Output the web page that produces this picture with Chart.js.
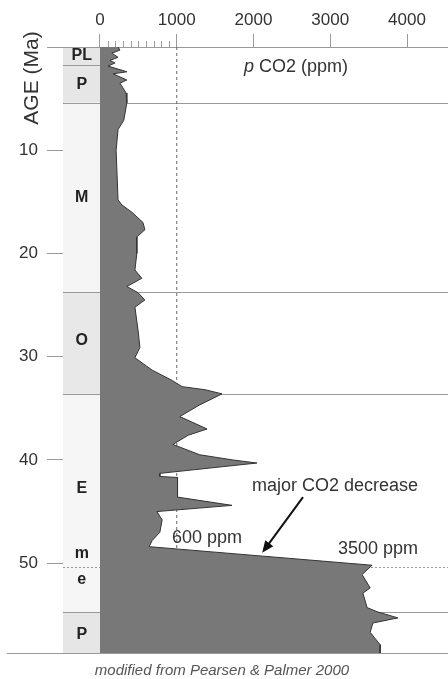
<!DOCTYPE html>
<html>
<head>
<meta charset="utf-8">
<script src="https://cdn.jsdelivr.net/npm/chart.js@4.4.0/dist/chart.umd.min.js"></script>
<style>
  html, body { margin: 0; padding: 0; background: #fff; }
</style>
</head>
<body>
<canvas id="myChart" width="448" height="679"></canvas>
<script>
const ages = [0, 0.3, 0.6, 1.0, 1.3, 1.55, 1.85, 2.4, 2.6, 3.2, 3.5, 4.45, 5.4, 7.1, 8.0, 10.0,
  14.8, 15.3, 16.0, 17.0, 17.7, 18.4, 20.0, 21.6, 22.4, 23.2, 23.8, 24.5, 25.2, 27.4, 29.1, 30.1,
  31.3, 32.3, 32.9, 33.2, 33.6, 34.7, 35.8, 37.0, 37.6, 38.5, 39.5, 40.0, 40.3, 41.3, 41.6, 41.7,
  43.6, 44.4, 45.0, 45.8, 47.0, 47.8, 48.4, 50.2, 51.1, 52.4, 52.9, 54.3, 54.7, 55.3, 55.8, 56.7,
  57.3, 57.9, 58.7];
const co2 = [235, 260, 155, 235, 130, 195, 105, 350, 170, 350, 260, 340, 350, 310, 235, 210,
  235, 285, 415, 560, 585, 480, 480, 455, 545, 350, 495, 585, 455, 495, 520, 455,
  680, 940, 1070, 1370, 1590, 1290, 1040, 1395, 1150, 950, 1300, 1730, 2045, 780, 780, 1010,
  1010, 1720, 740, 810, 780, 680, 640, 3545, 3415, 3520, 3425, 3480, 3610, 3880, 3555, 3520,
  3585, 3650, 3650];

// epochs (Ma)
const epochNames = ['PL', 'P', 'M', 'O', 'E', 'P'];
const epochTops = [0, 1.75, 5.4, 23.7, 33.6, 54.7];
const epochBottoms = [1.75, 5.4, 23.7, 33.6, 54.7, 58.7];
const subEpochNames = ['m', 'e'];
const subEpochBoundary = 50.4;

// axes
const xTicks = [0, 1000, 2000, 3000, 4000];
const xMinorTicks = [100, 200, 300, 400, 500, 600, 700, 800, 900];
const yTicks = [10, 20, 30, 40, 50];
const refPpm = 1000;
const ageMax = 58.7;

const fontFam = '"Liberation Sans", Arial, Helvetica, sans-serif';
const lineGray = '#9a9a9a';
const epochColors = ['#e6e6e6', '#e6e6e6', '#f5f5f5', '#e8e8e8', '#f6f6f6', '#e6e6e6'];

const co2Data = ages.map((a, i) => ({ x: co2[i], y: a }));

const decor = {
    id: 'decor',
    beforeDatasetsDraw(chart) {
        const { ctx, chartArea: a, scales: { x, y } } = chart;
        const x0 = Math.round(x.getPixelForValue(0)) + 0.5;
        const right = chart.width;
        ctx.save();
        ctx.lineWidth = 1;

        // epoch column
        epochNames.forEach((name, i) => {
            const t = y.getPixelForValue(epochTops[i]);
            const b = y.getPixelForValue(epochBottoms[i]);
            ctx.fillStyle = epochColors[i];
            ctx.fillRect(a.left, t, x0 - a.left, b - t);
        });

        ctx.strokeStyle = lineGray;
        const hline = (age, from, to) => {
            const py = Math.round(y.getPixelForValue(age)) + 0.5;
            ctx.beginPath();
            ctx.moveTo(from, py);
            ctx.lineTo(to, py);
            ctx.stroke();
        };
        // top axis line and bottom line
        hline(0, 47, right);
        hline(ageMax, 7, right);
        // epoch boundaries
        epochTops.slice(1).forEach((t, i) => {
            hline(t, a.left, i === 0 ? x0 : right);
        });
        // column right edge
        ctx.beginPath();
        ctx.moveTo(x0, a.top);
        ctx.lineTo(x0, a.bottom);
        ctx.stroke();

        // dotted sub-epoch line
        ctx.setLineDash([2, 2]);
        hline(subEpochBoundary, a.left, right);
        ctx.setLineDash([]);

        // minor ticks
        xMinorTicks.forEach(v => {
            const px = Math.round(x.getPixelForValue(v)) + 0.5;
            ctx.beginPath();
            ctx.moveTo(px, a.top - 6);
            ctx.lineTo(px, a.top);
            ctx.stroke();
        });

        // epoch labels
        ctx.fillStyle = '#222';
        ctx.font = 'bold 16px ' + fontFam;
        ctx.textAlign = 'center';
        ctx.textBaseline = 'middle';
        const cx = (a.left + x0) / 2;
        const labelAges = [0.87, 3.6, 14.6, 28.4, 42.8, 56.9];
        epochNames.forEach((name, i) => {
            ctx.fillText(name, cx, y.getPixelForValue(labelAges[i]));
        });
        ctx.fillText(subEpochNames[0], cx, y.getPixelForValue(49.1));
        ctx.fillText(subEpochNames[1], cx, y.getPixelForValue(51.6));
        ctx.restore();
    },
    afterDraw(chart) {
        const { ctx, scales: { x, y } } = chart;
        ctx.save();
        ctx.fillStyle = '#333';
        ctx.textAlign = 'center';
        ctx.textBaseline = 'middle';

        // axis title (rotated)
        ctx.save();
        ctx.translate(32, 78);
        ctx.rotate(-Math.PI / 2);
        ctx.font = '21px ' + fontFam;
        ctx.fillText('AGE (Ma)', 0, 0);
        ctx.restore();

        // p CO2 (ppm)
        ctx.font = '18px ' + fontFam;
        const tx = x.getPixelForValue(2554), ty = y.getPixelForValue(1.9);
        const rest = ' CO2 (ppm)';
        const wRest = ctx.measureText(rest).width;
        ctx.font = 'italic 18px ' + fontFam;
        const wP = ctx.measureText('p').width;
        const startX = tx - (wP + wRest) / 2;
        ctx.textAlign = 'left';
        ctx.fillText('p', startX, ty);
        ctx.font = '18px ' + fontFam;
        ctx.fillText(rest, startX + wP, ty);

        // annotations
        ctx.textAlign = 'center';
        ctx.font = '18px ' + fontFam;
        ctx.fillText('major CO2 decrease', x.getPixelForValue(3062), y.getPixelForValue(42.5));
        ctx.fillText('600 ppm', x.getPixelForValue(1394), y.getPixelForValue(47.6));
        ctx.fillText('3500 ppm', x.getPixelForValue(3622), y.getPixelForValue(48.6));

        // arrow
        const x1 = x.getPixelForValue(2645), y1 = y.getPixelForValue(43.6);
        const x2 = x.getPixelForValue(2113), y2 = y.getPixelForValue(49.0);
        ctx.strokeStyle = '#111';
        ctx.fillStyle = '#111';
        ctx.lineWidth = 2;
        const ang = Math.atan2(y2 - y1, x2 - x1);
        ctx.beginPath();
        ctx.moveTo(x1, y1);
        ctx.lineTo(x2 - 8 * Math.cos(ang), y2 - 8 * Math.sin(ang));
        ctx.stroke();
        ctx.beginPath();
        ctx.moveTo(x2, y2);
        ctx.lineTo(x2 - 12 * Math.cos(ang) + 5 * Math.sin(ang), y2 - 12 * Math.sin(ang) - 5 * Math.cos(ang));
        ctx.lineTo(x2 - 12 * Math.cos(ang) - 5 * Math.sin(ang), y2 - 12 * Math.sin(ang) + 5 * Math.cos(ang));
        ctx.closePath();
        ctx.fill();

        // source note
        ctx.fillStyle = '#555';
        ctx.font = 'italic 15px ' + fontFam;
        ctx.fillText('modified from Pearsen & Palmer 2000', 222, 671);
        ctx.restore();
    }
};

const data = {
    datasets: [{
        label: 'pCO2',
        data: co2Data,
        fill: 'origin',
        backgroundColor: '#787878',
        borderColor: '#333',
        borderWidth: 1,
        pointRadius: 0,
        tension: 0,
        order: 0
    }, {
        label: '1000 ppm',
        data: [{ x: refPpm, y: 0 }, { x: refPpm, y: ageMax }],
        fill: false,
        borderColor: '#666',
        borderWidth: 1,
        borderDash: [3, 3],
        pointRadius: 0,
        order: 1
    }]
};

const config = {
    type: 'line',
    data,
    options: {
        responsive: false,
        animation: false,
        devicePixelRatio: 1,
        indexAxis: 'y',
        layout: { padding: { top: 0, left: 0, right: 0, bottom: 26 } },
        plugins: { legend: { display: false }, tooltip: { enabled: false } },
        scales: {
            x: {
                type: 'linear',
                position: 'top',
                min: -482,
                max: 4534,
                afterBuildTicks: s => { s.ticks = xTicks.map(v => ({ value: v })); },
                afterFit: s => { s.height = 47; },
                grid: { drawOnChartArea: false, tickLength: 13, color: lineGray },
                border: { display: false },
                ticks: {
                    font: { size: 17, family: fontFam }, color: '#333', padding: 3, maxRotation: 0,
                    callback: v => String(v)
                }
            },
            y: {
                type: 'linear',
                reverse: true,
                min: 0,
                max: ageMax,
                afterBuildTicks: s => { s.ticks = yTicks.map(v => ({ value: v })); },
                afterFit: s => { s.width = 63; },
                grid: { drawOnChartArea: false, tickLength: 16, color: lineGray },
                border: { display: true, color: lineGray },
                ticks: { font: { size: 17, family: fontFam }, color: '#333', padding: 9 }
            }
        }
    },
    plugins: [decor]
};

const myChart = new Chart(document.getElementById('myChart'), config);
</script>
</body>
</html>
